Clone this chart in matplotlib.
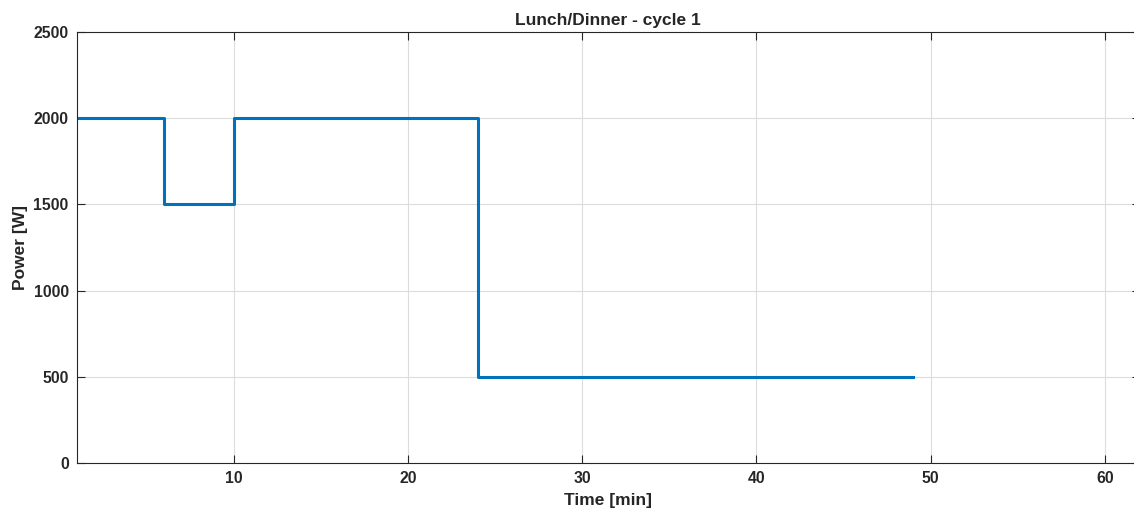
import matplotlib.pyplot as plt
import numpy as np

plt.rcParams['font.family'] = ['Liberation Sans', 'DejaVu Sans']
plt.rcParams['font.weight'] = 'bold'

# step profile of the cycle
time_min = [1, 6, 10, 24, 49]
power_w = [2000, 1500, 2000, 500, 500]

x_ticks = [10, 20, 30, 40, 50, 60]
y_ticks = [0, 500, 1000, 1500, 2000, 2500]

tick_fontsize = 11.3
label_fontsize = 12.5
axis_color = "#262626"

fig = plt.figure(figsize=(11.34, 5.11), dpi=100)
ax = fig.add_axes([0.0679, 0.0939, 0.937, 0.8434])

ax.step(time_min, power_w, where="post", color="#0072BD", linewidth=2.2)

ax.set_xlim(1, 62)
ax.set_ylim(0, 2500)
ax.set_xticks(x_ticks)
ax.set_yticks(y_ticks)

ax.grid(True, color="#dcdcdc", linewidth=0.8)
ax.set_axisbelow(True)

ax.tick_params(
	axis="both", direction="in", length=6, width=0.8,
	top=True, right=True, colors=axis_color,
	labelsize=tick_fontsize, pad=6,
)
for lbl in ax.get_xticklabels() + ax.get_yticklabels():
	lbl.set_fontweight("bold")
for spine in ax.spines.values():
	spine.set_color(axis_color)
	spine.set_linewidth(0.8)

ax.set_xlabel("Time [min]", fontsize=label_fontsize, fontweight="bold", color=axis_color, labelpad=5)
ax.set_ylabel("Power [W]", fontsize=label_fontsize, fontweight="bold", color=axis_color, labelpad=4)
ax.set_title("Lunch/Dinner - cycle 1", fontsize=label_fontsize, fontweight="bold", color=axis_color, pad=5)

plt.savefig("out.png", dpi=100)
plt.close()
